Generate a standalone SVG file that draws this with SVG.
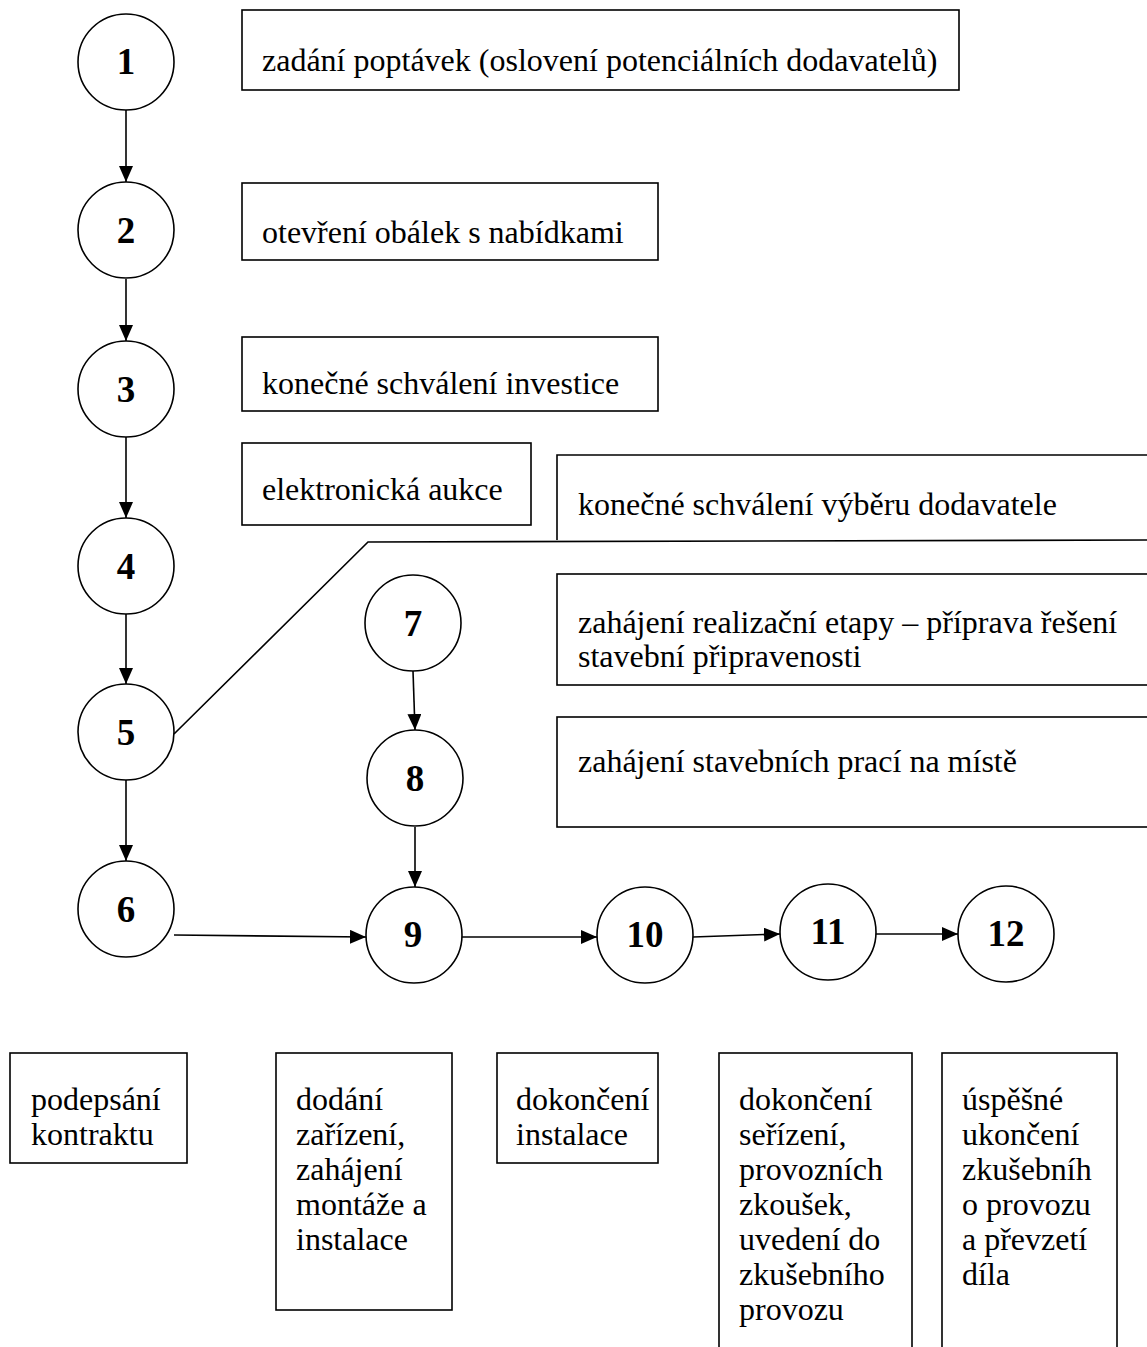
<svg xmlns="http://www.w3.org/2000/svg" width="1147" height="1347" viewBox="0 0 1147 1347">
<style>
.c{fill:#fff;stroke:#000;stroke-width:1.6}
.b{fill:#fff;stroke:#000;stroke-width:1.6}
.n{font-family:"Liberation Serif","Times New Roman",serif;font-weight:bold;font-size:37px;text-anchor:middle}
.t{font-family:"Liberation Serif","Times New Roman",serif;font-size:32px}
.l{fill:none;stroke:#000;stroke-width:1.6}
</style>
<defs>
<marker id="a" viewBox="0 0 16 14" refX="16" refY="7" markerWidth="16" markerHeight="14" markerUnits="userSpaceOnUse" orient="auto">
<path d="M0,0 L16,7 L0,14 z" fill="#000"/>
</marker>
</defs>
<rect width="1147" height="1347" fill="#fff"/>
<g id="connectors">
<line class="l" x1="126" y1="110" x2="126" y2="182" marker-end="url(#a)"/>
<line class="l" x1="126" y1="279" x2="126" y2="341" marker-end="url(#a)"/>
<line class="l" x1="126" y1="437" x2="126" y2="518" marker-end="url(#a)"/>
<line class="l" x1="126" y1="614" x2="126" y2="684" marker-end="url(#a)"/>
<line class="l" x1="126" y1="780" x2="126" y2="861" marker-end="url(#a)"/>
<polyline class="l" points="174,734 368,542 1147,540"/>
<line class="l" x1="413" y1="671" x2="415" y2="730" marker-end="url(#a)"/>
<line class="l" x1="415" y1="827" x2="415" y2="887" marker-end="url(#a)"/>
<line class="l" x1="174" y1="935" x2="366" y2="937" marker-end="url(#a)"/>
<line class="l" x1="462" y1="937" x2="597" y2="937" marker-end="url(#a)"/>
<line class="l" x1="693" y1="937" x2="780" y2="934" marker-end="url(#a)"/>
<line class="l" x1="876" y1="934" x2="958" y2="934" marker-end="url(#a)"/>
</g>
<g id="n1"><circle class="c" cx="126" cy="62" r="48"/><text class="n" x="126" y="74">1</text></g>
<g id="n2"><circle class="c" cx="126" cy="230" r="48"/><text class="n" x="126" y="243">2</text></g>
<g id="n3"><circle class="c" cx="126" cy="389" r="48"/><text class="n" x="126" y="402">3</text></g>
<g id="n4"><circle class="c" cx="126" cy="566" r="48"/><text class="n" x="126" y="579">4</text></g>
<g id="n5"><circle class="c" cx="126" cy="732" r="48"/><text class="n" x="126" y="745">5</text></g>
<g id="n6"><circle class="c" cx="126" cy="909" r="48"/><text class="n" x="126" y="922">6</text></g>
<g id="n7"><circle class="c" cx="413" cy="623" r="48"/><text class="n" x="413" y="636">7</text></g>
<g id="n8"><circle class="c" cx="415" cy="778" r="48"/><text class="n" x="415" y="791">8</text></g>
<g id="n9"><circle class="c" cx="414" cy="935" r="48"/><text class="n" x="413" y="947">9</text></g>
<g id="n10"><circle class="c" cx="645" cy="935" r="48"/><text class="n" x="645" y="947">10</text></g>
<g id="n11"><circle class="c" cx="828" cy="932" r="48"/><text class="n" x="828" y="944">11</text></g>
<g id="n12"><circle class="c" cx="1006" cy="934" r="48"/><text class="n" x="1006" y="946">12</text></g>
<g id="b1"><rect class="b" x="242" y="10" width="717" height="80"/><text class="t" x="262" y="71">zadání poptávek (oslovení potenciálních dodavatelů)</text></g>
<g id="b2"><rect class="b" x="242" y="183" width="416" height="77"/><text class="t" x="262" y="243">otevření obálek s nabídkami</text></g>
<g id="b3"><rect class="b" x="242" y="337" width="416" height="74"/><text class="t" x="262" y="394">konečné schválení investice</text></g>
<g id="b4"><rect class="b" x="242" y="443" width="289" height="82"/><text class="t" x="262" y="500">elektronická aukce</text></g>
<g id="b5"><polyline class="l" points="557,540 557,455 1147,455"/><text class="t" x="578" y="515">konečné schválení výběru dodavatele</text></g>
<g id="b6"><rect class="b" x="557" y="574" width="600" height="111"/><text class="t" x="578" y="633">zahájení realizační etapy – příprava řešení</text><text class="t" x="578" y="667">stavební připravenosti</text></g>
<g id="b7"><rect class="b" x="557" y="717" width="600" height="110"/><text class="t" x="578" y="772">zahájení stavebních prací na místě</text></g>
<g id="b8"><rect class="b" x="10" y="1053" width="177" height="110"/><text class="t" x="31" y="1110">podepsání</text><text class="t" x="31" y="1145">kontraktu</text></g>
<g id="b9"><rect class="b" x="276" y="1053" width="176" height="257"/><text class="t" x="296" y="1110">dodání</text><text class="t" x="296" y="1145">zařízení,</text><text class="t" x="296" y="1180">zahájení</text><text class="t" x="296" y="1215">montáže a</text><text class="t" x="296" y="1250">instalace</text></g>
<g id="b10"><rect class="b" x="497" y="1053" width="161" height="110"/><text class="t" x="516" y="1110">dokončení</text><text class="t" x="516" y="1145">instalace</text></g>
<g id="b11"><rect class="b" x="719" y="1053" width="193" height="310"/><text class="t" x="739" y="1110">dokončení</text><text class="t" x="739" y="1145">seřízení,</text><text class="t" x="739" y="1180">provozních</text><text class="t" x="739" y="1215">zkoušek,</text><text class="t" x="739" y="1250">uvedení do</text><text class="t" x="739" y="1285">zkušebního</text><text class="t" x="739" y="1320">provozu</text></g>
<g id="b12"><rect class="b" x="942" y="1053" width="175" height="310"/><text class="t" x="962" y="1110">úspěšné</text><text class="t" x="962" y="1145">ukončení</text><text class="t" x="962" y="1180">zkušebníh</text><text class="t" x="962" y="1215">o provozu</text><text class="t" x="962" y="1250">a převzetí</text><text class="t" x="962" y="1285">díla</text></g>
</svg>
